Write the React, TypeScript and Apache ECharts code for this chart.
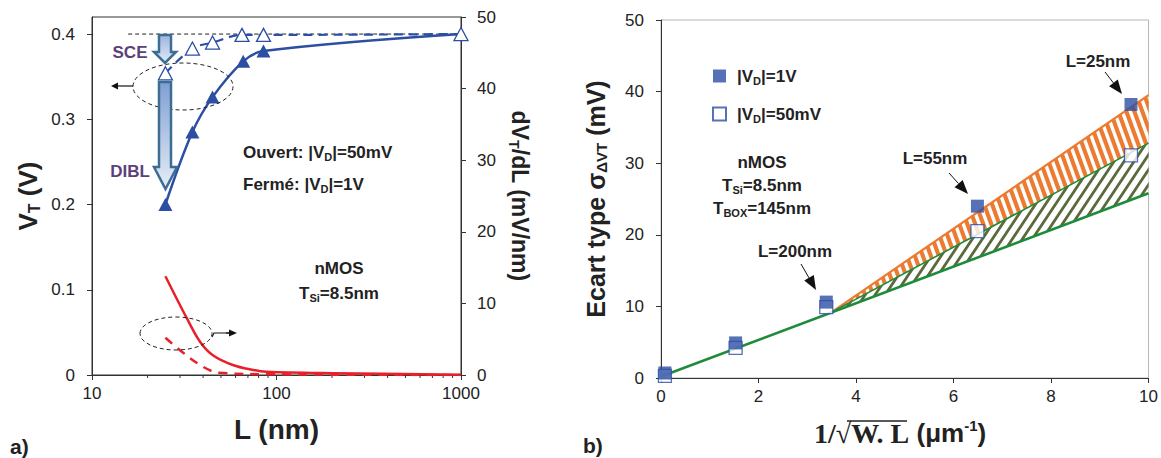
import React, { useEffect, useRef } from 'react';
import * as echarts from 'echarts';

// ---------- Panel a) : V_T and dV_T/dL versus L ----------
const axisLTicks = [10, 100, 1000];
const minorTicksL = [20, 30, 40, 50, 60, 70, 80, 90, 200, 300, 400, 500, 600, 700, 800, 900];
const refL = [15.7, 1000];
const refV = [0.4, 0.4];
const vtLinL = [25, 35, 45, 65, 85, 1000];
const vtLin = [0.354, 0.383, 0.39, 0.399, 0.399, 0.4];
const vtSatL = [25, 35, 45, 66, 85, 1000];
const vtSat = [0.2, 0.285, 0.326, 0.368, 0.38, 0.4];
const dvdlSatL = [25, 32.7, 38.5, 45, 58, 75, 88, 200, 1000];
const dvdlSat = [13.8, 7.9, 4.65, 2.8, 1.4, 0.7, 0.45, 0.25, 0.05];
const dvdlLinL = [25, 30.7, 40, 49, 100, 1000];
const dvdlLin = [5.2, 3.25, 1.15, 0.3, 0.1, 0.0];

// ---------- Panel b) : sigma(dVT) versus 1/sqrt(W.L) ----------
const invSqrtWL = [0.08, 1.53, 3.39, 6.49, 9.64];
const sigmaVd1 = [0.7, 4.9, 10.6, 24.0, 38.2];
const sigmaVd50 = [0.3, 4.2, 9.9, 20.5, 31.1];
const fitX = [0, 10];
const fitLow = [0.2, 25.8];
const bandX = [3.5, 10];
const bandGreenLow = [9.2, 25.8];
const bandGreenHigh = [9.2, 32.8];
const bandOrangeHigh = [9.2, 39.5];

const F = "'Liberation Sans', Arial, Helvetica, sans-serif";
const SERIF = "'Liberation Serif', 'DejaVu Serif', serif";
const BLUE = '#2c4ea3';
const RED = '#e8202a';
const GREEN = '#1f8b3a';
const ORANGE = '#ec7a30';
const TXT = '#222';

const pair = (xs: number[], ys: number[]) => xs.map((x, i) => [x, ys[i]]);

function stripePattern(w: number, h: number, bg: string, fg: string, sw: number, dir: 'back' | 'fwd') {
  const c = document.createElement('canvas');
  c.width = w;
  c.height = h;
  const ctx = c.getContext('2d')!;
  ctx.fillStyle = bg;
  ctx.fillRect(0, 0, w, h);
  ctx.fillStyle = fg;
  for (let k = -2; k <= 2; k++) {
    const x0 = k * w;
    ctx.beginPath();
    if (dir === 'back') {
      ctx.moveTo(x0, 0);
      ctx.lineTo(x0 + sw, 0);
      ctx.lineTo(x0 + sw + w, h);
      ctx.lineTo(x0 + w, h);
    } else {
      ctx.moveTo(x0, 0);
      ctx.lineTo(x0 + sw, 0);
      ctx.lineTo(x0 + sw - w, h);
      ctx.lineTo(x0 - w, h);
    }
    ctx.closePath();
    ctx.fill();
  }
  return { image: c.toDataURL(), repeat: 'repeat', imageWidth: w, imageHeight: h };
}

function arrow(x1: number, y1: number, x2: number, y2: number, hl: number, hw: number, lw = 1, color = '#111') {
  const dx = x2 - x1, dy = y2 - y1;
  const L = Math.hypot(dx, dy);
  const ux = dx / L, uy = dy / L;
  const bx = x2 - ux * hl, by = y2 - uy * hl;
  const px = -uy, py = ux;
  return [
    { type: 'line', z: 100, shape: { x1, y1, x2: bx, y2: by }, style: { stroke: color, lineWidth: lw } },
    {
      type: 'polygon', z: 100,
      shape: { points: [[x2, y2], [bx + (px * hw) / 2, by + (py * hw) / 2], [bx - (px * hw) / 2, by - (py * hw) / 2]] },
      style: { fill: color },
    },
  ];
}

const subStyle = (fs: number) => ({
  fontSize: fs, fontWeight: 'bold', fontFamily: F, color: TXT, fill: TXT,
  verticalAlign: 'bottom', lineHeight: fs,
});

function txt(text: string, x: number, y: number, opts: any = {}) {
  const fs = opts.fs || 17;
  const color = opts.color || TXT;
  return {
    type: 'text', z: 110, x, y,
    style: {
      text, fontSize: fs, fontWeight: 'bold', fontFamily: opts.family || F, fill: color,
      align: opts.align || 'center', textAlign: opts.align || 'center',
      verticalAlign: 'middle', textVerticalAlign: 'middle', lineHeight: fs + 4,
      rich: {
        sub: { ...subStyle(Math.round(fs * 0.65)), fill: color, color },
      },
    },
  };
}

function blockArrow(x0: number, x1: number, hx0: number, hx1: number, yTop: number, yHead: number, yTip: number, c0: string, c1: string) {
  const cx = (hx0 + hx1) / 2;
  return {
    type: 'polygon', z: 90,
    shape: { points: [[x0, yTop], [x1, yTop], [x1, yHead], [hx1, yHead], [cx, yTip], [hx0, yHead], [x0, yHead]] },
    style: {
      fill: new echarts.graphic.LinearGradient(0, 0, 0, 1, [{ offset: 0, color: c0 }, { offset: 1, color: c1 }]),
      stroke: '#3d6d92', lineWidth: 2.5, lineJoin: 'miter',
    },
  };
}

function bandSeries(lower: number[], upper: number[], fill: any) {
  return {
    type: 'custom', xAxisIndex: 1, yAxisIndex: 2, silent: true, z: 2,
    data: [[bandX[0], lower[0]]],
    encode: { x: 0, y: 1 },
    renderItem: (_p: any, api: any) => {
      const pts: number[][] = [];
      bandX.forEach((x, i) => pts.push(api.coord([x, lower[i]])));
      for (let i = bandX.length - 1; i >= 0; i--) pts.push(api.coord([bandX[i], upper[i]]));
      return { type: 'polygon', shape: { points: pts }, style: { fill, stroke: 'none' } };
    },
  };
}

export default function App() {
  const ref = useRef<HTMLDivElement>(null);
  useEffect(() => {
    if (!ref.current) return;
    const chart = echarts.init(ref.current, undefined, { renderer: 'svg' });
    const orangePat = stripePattern(8, 22, ORANGE, '#ffffff', 3.6, 'back');
    const greenPat = stripePattern(10, 15, '#ffffff', '#5b6a3c', 3.4, 'fwd');

    const axisLabel = { fontSize: 17, color: TXT, fontFamily: F };
    const axisLine = { lineStyle: { color: '#333', width: 1 } };

    const option: any = {
      animation: false,
      backgroundColor: '#fff',
      grid: [
        { left: 92, top: 17, width: 369, height: 358, show: true, borderColor: '#333', borderWidth: 1, backgroundColor: 'transparent' },
        { left: 661, top: 20, width: 491, height: 358, show: true, borderColor: '#b5b5b5', borderWidth: 1, backgroundColor: 'transparent' },
      ],
      xAxis: [
        {
          type: 'log', gridIndex: 0, logBase: 10, min: axisLTicks[0], max: axisLTicks[2],
          name: 'L (nm)', nameLocation: 'middle', nameGap: 40,
          nameTextStyle: { fontSize: 28, fontWeight: 'bold', color: TXT, fontFamily: F },
          axisLine, axisTick: { length: 5, lineStyle: { color: '#333' } },
          axisLabel: { ...axisLabel, margin: 10, formatter: (v: number) => String(Math.round(v)) },
          splitLine: { show: false },
        },
        {
          type: 'value', gridIndex: 1, min: 0, max: 10, interval: 2,
          axisLine, axisTick: { length: 5, lineStyle: { color: '#333' } },
          axisLabel: { ...axisLabel, margin: 10 },
          splitLine: { show: false },
        },
      ],
      yAxis: [
        {
          type: 'value', gridIndex: 0, position: 'left', min: 0, max: 0.42, interval: 0.1,
          name: 'V{sub|T} (V)', nameLocation: 'middle', nameGap: 50, nameRotate: 90,
          nameTextStyle: {
            fontSize: 26, fontWeight: 'bold', color: TXT, fontFamily: F, lineHeight: 28,
            rich: { sub: subStyle(16) },
          },
          axisLine: { show: true, ...axisLine }, axisTick: { show: true, length: 5, lineStyle: { color: '#333' } },
          axisLabel: { ...axisLabel, margin: 17, showMaxLabel: false, formatter: (v: number) => (v === 0 ? '0' : v.toFixed(1)) },
          splitLine: { show: false },
        },
        {
          type: 'value', gridIndex: 0, position: 'right', min: 0, max: 50, interval: 10,
          name: 'dV{sub|T}/dL (mV/nm)', nameLocation: 'middle', nameGap: 46, nameRotate: -90,
          nameTextStyle: {
            fontSize: 23, fontWeight: 'bold', color: TXT, fontFamily: F, lineHeight: 25,
            rich: { sub: subStyle(14) },
          },
          axisLine: { show: true, ...axisLine }, axisTick: { show: true, length: 5, lineStyle: { color: '#333' } },
          axisLabel: { ...axisLabel, margin: 16 },
          splitLine: { show: false },
        },
        {
          type: 'value', gridIndex: 1, min: 0, max: 50, interval: 10,
          name: 'Ecart type σ{sub|ΔVT} (mV)', nameLocation: 'middle', nameGap: 52, nameRotate: 90,
          nameTextStyle: {
            fontSize: 25, fontWeight: 'bold', color: TXT, fontFamily: F, lineHeight: 27,
            rich: { sub: subStyle(15) },
          },
          axisLine: { show: true, ...axisLine }, axisTick: { show: true, length: 5, lineStyle: { color: '#333' } },
          axisLabel: { ...axisLabel, margin: 17 },
          splitLine: { show: false },
        },
      ],
      legend: {
        data: ['vd1', 'vd50'], orient: 'vertical', left: 707, top: 61,
        itemWidth: 13, itemHeight: 13, itemGap: 18, icon: 'rect',
        formatter: (n: string) => (n === 'vd1' ? '|V{sub|D}|=1V' : '|V{sub|D}|=50mV'),
        textStyle: {
          fontSize: 17, fontWeight: 'bold', color: TXT, fontFamily: F, lineHeight: 20, padding: [0, 0, 0, 6],
          rich: { sub: subStyle(11) },
        },
      },
      series: [
        {
          type: 'line', xAxisIndex: 0, yAxisIndex: 0, data: pair(refL, refV), symbol: 'none', silent: true,
          lineStyle: { color: '#222', width: 1, type: [4, 3] }, z: 2,
        },
        {
          type: 'line', name: 'sat', xAxisIndex: 0, yAxisIndex: 0, data: pair(vtSatL, vtSat), smooth: 0.35,
          symbol: 'triangle', symbolSize: [14, 13], itemStyle: { color: BLUE },
          lineStyle: { color: BLUE, width: 2.5 }, z: 3,
        },
        {
          type: 'line', name: 'lin', xAxisIndex: 0, yAxisIndex: 0, data: pair(vtLinL, vtLin), smooth: 0.35,
          symbol: 'triangle', symbolSize: [14, 13], itemStyle: { color: '#fff', borderColor: BLUE, borderWidth: 1.3 },
          lineStyle: { color: BLUE, width: 2.2, type: [9, 6] }, z: 4,
        },
        {
          type: 'line', xAxisIndex: 0, yAxisIndex: 1, data: pair(dvdlSatL, dvdlSat), smooth: 0.35, symbol: 'none',
          lineStyle: { color: RED, width: 2.5 }, z: 3,
        },
        {
          type: 'line', xAxisIndex: 0, yAxisIndex: 1, data: pair(dvdlLinL, dvdlLin), smooth: 0.35, symbol: 'none',
          lineStyle: { color: RED, width: 2.5, type: [9, 7] }, z: 3,
        },
        {
          type: 'custom', xAxisIndex: 0, yAxisIndex: 0, clip: false, silent: true,
          data: minorTicksL.map((v) => [v, 0]),
          encode: { x: 0, y: 1 },
          renderItem: (_p: any, api: any) => {
            const p = api.coord([api.value(0), 0]);
            return { type: 'line', shape: { x1: p[0], y1: p[1], x2: p[0], y2: p[1] + 3 }, style: { stroke: '#333', lineWidth: 1 } };
          },
        },
        // panel b hatched bands
        bandSeries(bandGreenLow, bandGreenHigh, greenPat),
        bandSeries(bandGreenHigh, bandOrangeHigh, orangePat),
        {
          type: 'line', xAxisIndex: 1, yAxisIndex: 2, data: pair(bandX, bandOrangeHigh), symbol: 'none', silent: true,
          lineStyle: { color: ORANGE, width: 2.2 }, z: 3,
        },
        {
          type: 'line', xAxisIndex: 1, yAxisIndex: 2, data: pair(bandX, bandGreenHigh), symbol: 'none', silent: true,
          lineStyle: { color: GREEN, width: 1.6 }, z: 3,
        },
        {
          type: 'line', xAxisIndex: 1, yAxisIndex: 2, data: pair(fitX, fitLow), symbol: 'none', silent: true,
          lineStyle: { color: GREEN, width: 2.6 }, z: 3,
        },
        {
          type: 'scatter', name: 'vd50', xAxisIndex: 1, yAxisIndex: 2, data: pair(invSqrtWL, sigmaVd50),
          symbol: 'rect', symbolSize: 13, itemStyle: { color: '#fff', borderColor: BLUE, borderWidth: 1.3 }, z: 5,
        },
        {
          type: 'scatter', name: 'vd1', xAxisIndex: 1, yAxisIndex: 2, data: pair(invSqrtWL, sigmaVd1),
          symbol: 'rect', symbolSize: 13, itemStyle: { color: BLUE }, z: 6,
        },
      ],
      graphic: [
        // panel a annotations
        { type: 'ellipse', z: 80, shape: { cx: 183, cy: 86.5, rx: 50, ry: 23.5 }, style: { fill: 'none', stroke: '#222', lineWidth: 1, lineDash: [4, 3] } },
        ...arrow(133, 86, 111, 86, 7, 7, 1.2),
        { type: 'ellipse', z: 80, shape: { cx: 176, cy: 333.5, rx: 36, ry: 16.5 }, style: { fill: 'none', stroke: '#222', lineWidth: 1, lineDash: [4, 3] } },
        { type: 'polyline', z: 100, shape: { points: [[212, 337], [214, 333], [230, 333]] }, style: { stroke: '#111', lineWidth: 1.2, fill: 'none' } },
        ...arrow(226, 333, 237, 333, 8, 7, 1.2),
        blockArrow(159, 171, 154, 176, 35, 52, 63, '#9cb5de', '#e2eaf6'),
        blockArrow(159, 171, 154, 177, 82, 167, 189, '#7f9fd2', '#e6eef8'),
        txt('SCE', 130, 52, { color: '#5b3f7d' }),
        txt('DIBL', 130, 171, { color: '#5b3f7d' }),
        txt('Ouvert: |V{sub|D}|=50mV', 243, 152, { align: 'left' }),
        txt('Fermé: |V{sub|D}|=1V', 243, 184, { align: 'left' }),
        txt('nMOS', 339, 268),
        txt('T{sub|Si}=8.5nm', 339, 293),
        txt('a)', 10, 446, { align: 'left', fs: 21 }),
        // panel b annotations
        txt('nMOS', 762, 162),
        txt('T{sub|Si}=8.5nm', 762, 185),
        txt('T{sub|BOX}=145nm', 762, 208),
        txt('L=25nm', 1098, 61),
        txt('L=55nm', 935, 158),
        txt('L=200nm', 795, 251),
        ...arrow(1105, 72, 1122, 94, 14, 11),
        ...arrow(949, 173, 968, 194, 14, 11),
        ...arrow(801, 264, 816, 290, 14, 11),
        txt('b)', 583, 445, { align: 'left', fs: 21 }),
        // x-axis title of panel b
        {
          type: 'text', z: 110, x: 814, y: 433,
          style: {
            text: '{m|1/√}{o|W. L}{s| (μm}{sup|-1}{s|)}',
            fontSize: 26, fontWeight: 'bold', fontFamily: F, fill: TXT,
            align: 'left', textAlign: 'left', verticalAlign: 'middle', textVerticalAlign: 'middle',
            rich: {
              m: { fontSize: 28, fontWeight: 'bold', fontFamily: SERIF, fill: TXT, lineHeight: 30 },
              o: { fontSize: 28, fontWeight: 'bold', fontFamily: SERIF, fill: TXT, lineHeight: 30 },
              s: { fontSize: 26, fontWeight: 'bold', fontFamily: F, fill: TXT, lineHeight: 30 },
              sup: { fontSize: 15, fontWeight: 'bold', fontFamily: F, fill: TXT, lineHeight: 16, verticalAlign: 'top' },
            },
          },
        },
        { type: 'line', z: 110, shape: { x1: 847, y1: 421, x2: 907, y2: 421 }, style: { stroke: TXT, lineWidth: 1.5 } },
      ],
    };
    chart.setOption(option);
    return () => chart.dispose();
  }, []);
  return <div ref={ref} style={{ position: 'fixed', left: 0, top: 0, width: 1161, height: 458, background: '#fff' }} />;
}
